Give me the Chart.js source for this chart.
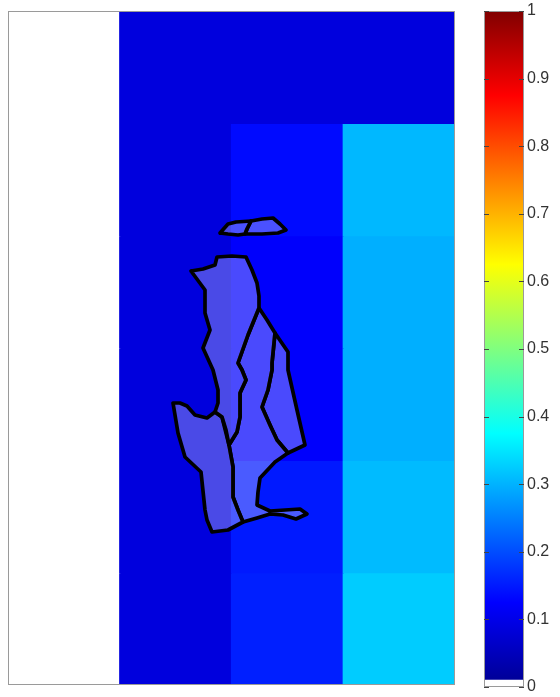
<!DOCTYPE html>
<html>
<head>
<meta charset="utf-8">
<script src="https://cdn.jsdelivr.net/npm/chart.js@4"></script>
<style>
html,body{margin:0;padding:0;background:#fff;width:560px;height:697px;overflow:hidden}
.box{position:absolute}
</style>
</head>
<body>
<div class="box" style="left:7px;top:10px;width:449px;height:676px"><canvas id="heat"></canvas></div>
<div class="box" style="left:484px;top:0;width:76px;height:697px"><canvas id="bar" style="display:block"></canvas></div>
<script>
const columns = ['c1','c2','c3','c4'];
const row1 = [null,0.087,0.087,0.087];
const row2 = [null,0.087,0.135,0.305];
const row3 = [null,0.087,0.122,0.297];
const row4 = [null,0.087,0.122,0.297];
const row5 = [null,0.087,0.15,0.308];
const row6 = [null,0.087,0.155,0.325];
const rows = [row1,row2,row3,row4,row5,row6];

const outlineLeftCap = [[220,233],[228,224],[236,222],[251,221],[247,229],[245,234],[238,235],[228,234],[220,233]];
const outlineRightCap = [[251,221],[262,219],[273,218],[280,224],[286,230],[278,233],[262,234],[245,234],[247,229],[251,221]];
const outlineUpper = [[191,271],[203,269],[215,265],[217,257],[232,256],[246,257],[252,270],[257,283],[259,296],[259,308],[248,335],[238,363],[242,370],[246,380],[240,393],[240,417],[237,432],[229,445],[226,430],[222,417],[215,412],[218,403],[218,390],[213,370],[203,348],[210,330],[205,313],[205,290],[191,271]];
const outlineLower = [[173,403],[180,403],[187,406],[195,415],[207,418],[215,412],[222,417],[229,445],[233,467],[233,497],[238,510],[243,522],[228,530],[212,532],[207,520],[205,510],[201,472],[185,457],[178,433],[173,403]];
const outlineMiddle = [[259,308],[267,320],[275,333],[272,363],[272,370],[268,390],[262,407],[270,425],[277,440],[288,453],[275,462],[260,478],[258,492],[257,505],[270,511],[285,510],[300,509],[307,514],[296,519],[283,515],[270,514],[257,518],[243,522],[238,510],[233,497],[233,467],[229,445],[237,432],[240,417],[240,393],[246,380],[242,370],[238,363],[248,335],[259,308]];
const outlineRight = [[275,333],[288,352],[288,370],[297,410],[305,445],[288,453],[277,440],[270,425],[262,407],[268,390],[272,370],[272,363],[275,333]];
const outlines = [outlineLeftCap,outlineRightCap,outlineUpper,outlineLower,outlineMiddle,outlineRight];

const barTicks = [0,0.1,0.2,0.3,0.4,0.5,0.6,0.7,0.8,0.9,1];
const emptyLevel = [0,0.0104];
const jetStops = [[0,[0,0,143]],[0.125,[0,0,255]],[0.375,[0,255,255]],[0.625,[255,255,0]],[0.875,[255,0,0]],[1,[128,0,0]]];

function jet(v){
  if(v===null) return '#ffffff';
  for(let i=1;i<jetStops.length;i++){
    const [a,ca]=jetStops[i-1],[b,cb]=jetStops[i];
    if(v<=b){const t=(v-a)/(b-a);
      return 'rgb('+ca.map((c,k)=>Math.round(c+(cb[k]-c)*t)).join(',')+')';}
  }
  return 'rgb(128,0,0)';
}
const frame = {id:'frame',afterDraw(c){
  const a=c.chartArea,x=c.ctx;x.save();x.strokeStyle='#9a9a9a';x.lineWidth=1;
  x.strokeRect(a.left+.5,a.top+.5,a.width-1,a.height-1);x.restore();}};
const barTicksMarks = {id:'marks',afterDraw(c){
  const a=c.chartArea,x=c.ctx,s=c.scales.y;x.save();x.strokeStyle='#444';x.lineWidth=1;
  barTicks.forEach(t=>{const p=Math.round(s.getPixelForValue(t))+.5;
    x.beginPath();x.moveTo(a.left,p);x.lineTo(a.left+5,p);x.moveTo(a.right-5,p);x.lineTo(a.right,p);x.stroke();});
  x.restore();}};

Chart.defaults.animation=false;
Chart.defaults.responsive=true;
Chart.defaults.maintainAspectRatio=false;
Chart.defaults.plugins.legend.display=false;
Chart.defaults.plugins.tooltip.enabled=false;

new Chart(document.getElementById('heat'),{
  type:'bar',
  data:{labels:columns,datasets:[
    ...rows.map((r,i)=>({type:'bar',order:10,grouped:false,xAxisID:'x',yAxisID:'y',
      data:r.map(()=>[i,i+1]),backgroundColor:r.map(jet),borderWidth:0,inflateAmount:0.6,
      barPercentage:1,categoryPercentage:1})),
    ...outlines.map(o=>({type:'line',order:1,xAxisID:'ox',yAxisID:'oy',
      data:o.map(p=>({x:p[0],y:p[1]})),borderColor:'#000',borderWidth:3.7,
      backgroundColor:'rgba(255,255,255,0.29)',fill:'shape',tension:0,pointRadius:0,
      borderJoinStyle:'round',borderCapStyle:'round'}))
  ]},
  options:{layout:{padding:1,autoPadding:false},
    scales:{
      x:{display:false,offset:true},
      y:{display:false,reverse:true,min:0,max:6},
      ox:{type:'linear',display:false,offset:false,min:8,max:455},
      oy:{type:'linear',display:false,offset:false,reverse:true,min:11,max:685}
    }},
  plugins:[frame]
});

new Chart(document.getElementById('bar'),{
  type:'bar',
  data:{labels:['scale'],datasets:[
    {grouped:false,data:[emptyLevel],backgroundColor:'#ffffff',barPercentage:1,categoryPercentage:1,borderWidth:0},
    {grouped:false,data:[[emptyLevel[1],1]],barPercentage:1,categoryPercentage:1,borderWidth:0,
     backgroundColor(ctx){
       const c=ctx.chart,a=c.chartArea;if(!a) return '#00f';
       const g=c.ctx.createLinearGradient(0,a.bottom,0,a.top);
       jetStops.forEach(s=>g.addColorStop(s[0],jet(s[0])));return g;}}
  ]},
  options:{layout:{padding:{top:11,bottom:10,left:0,right:0},autoPadding:false},
    scales:{
      x:{display:false,offset:true},
      y:{position:'right',min:0,max:1,
        afterFit(s){s.width=36;},
        afterBuildTicks(s){s.ticks=barTicks.map(v=>({value:v}));},
        grid:{display:false,drawTicks:true,tickLength:3},border:{display:false},
        ticks:{color:'#333',font:{family:'"Liberation Sans"',size:16},padding:0,autoSkip:false,
          callback:v=>String(v)}}
    }},
  plugins:[frame,barTicksMarks]
});
</script>
</body>
</html>
